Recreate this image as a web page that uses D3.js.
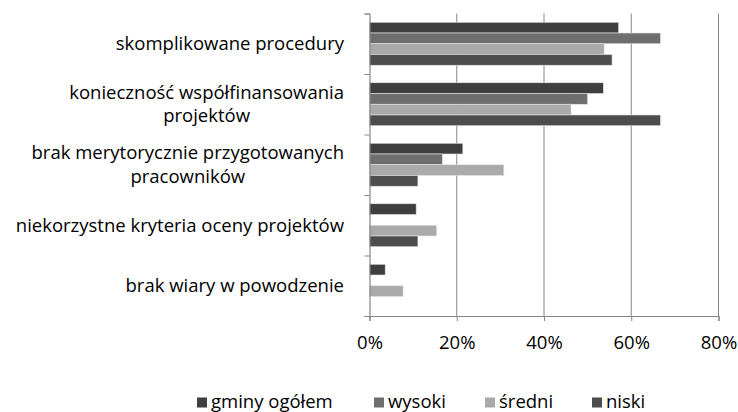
<!DOCTYPE html>
<html>
<head>
<meta charset="utf-8">
<script src="https://cdn.jsdelivr.net/npm/d3@7"></script>
<style>
  body { margin: 0; background: #fff; }
  text { font-family: "Open Sans", sans-serif; fill: #000; }
</style>
</head>
<body>
<script>
// categories (top to bottom)
var categories = [
  "skomplikowane procedury",
  "konieczność współfinansowania projektów",
  "brak merytorycznie przygotowanych pracowników",
  "niekorzystne kryteria oceny projektów",
  "brak wiary w powodzenie"
];
var seriesNames = ["gminy ogółem", "wysoki", "średni", "niski"];
var seriesColors = ["#3f3f3f", "#6e6e6e", "#aaaaaa", "#4d4d4d"];

// values in %, one array per series, same order as categories
var gminyOgolem = [57.1, 53.6, 21.4, 10.7, 3.6];
var wysoki      = [66.7, 50.0, 16.7, 0, 0];
var sredni      = [53.8, 46.2, 30.8, 15.4, 7.7];
var niski       = [55.6, 66.7, 11.1, 11.1, 0];

var tickValues = [0, 20, 40, 60, 80];

var seriesValues = [gminyOgolem, wysoki, sredni, niski];

var W = 738, H = 412, FS = "18.5px";
var svg = d3.select("body").append("svg")
  .attr("width", W).attr("height", H);

var x = d3.scaleLinear().domain([0, 80]).range([369.5, 718.5]);
var y = d3.scaleBand().domain(categories).range([13.5, 316])
  .paddingInner(0.29).paddingOuter(0.145);
var ySub = d3.scaleBand().domain(seriesNames).range([0, y.bandwidth()]);
var yEdge = d3.scaleLinear().domain([0, categories.length]).range([13.5, 316]);

// gridlines
svg.append("g")
  .selectAll("line")
  .data(tickValues.slice(1))
  .enter().append("line")
  .attr("x1", function(d){ return x(d); })
  .attr("x2", function(d){ return x(d); })
  .attr("y1", 13.5).attr("y2", 316)
  .attr("stroke", "#868686").attr("stroke-width", 1);

// bars
var rows = [];
categories.forEach(function(c, i){
  seriesNames.forEach(function(s, j){
    rows.push({cat: c, series: s, value: seriesValues[j][i], color: seriesColors[j]});
  });
});

svg.append("g")
  .selectAll("rect")
  .data(rows.filter(function(d){ return d.value > 0; }))
  .enter().append("rect")
  .attr("x", x(0))
  .attr("y", function(d){ return y(d.cat) + ySub(d.series); })
  .attr("width", function(d){ return x(d.value) - x(0); })
  .attr("height", ySub.bandwidth())
  .attr("fill", function(d){ return d.color; })
  .attr("stroke", "#e4e4e4")
  .attr("stroke-width", 0.6);

// x axis
var xAxis = svg.append("g")
  .attr("transform", "translate(0,316)")
  .call(d3.axisBottom(x).tickValues(tickValues).tickSize(5).tickPadding(15)
    .tickFormat(function(d){ return d + "%"; }));
xAxis.select(".domain").attr("stroke", "#868686").attr("stroke-width", 1.2);
xAxis.selectAll(".tick line").attr("stroke", "#868686");
xAxis.selectAll("text").style("font-size", FS).attr("fill", "#000");

// y axis (boundary ticks only)
var yAxis = svg.append("g")
  .attr("transform", "translate(369.5,0)")
  .call(d3.axisLeft(yEdge).ticks(categories.length).tickSize(5).tickFormat(""));
yAxis.select(".domain").attr("stroke", "#868686").attr("stroke-width", 1.2);
yAxis.selectAll(".tick line").attr("stroke", "#868686");

// category labels, wrapped and centered as a block against the axis
var labelRight = 344, maxW = 342, lineH = 23.5;
categories.forEach(function(c){
  var words = c.split(" "), lines = [], line = [];
  var probe = svg.append("text").style("font-size", FS);
  words.forEach(function(w){
    line.push(w);
    probe.text(line.join(" "));
    if (probe.node().getComputedTextLength() > maxW && line.length > 1) {
      line.pop();
      lines.push(line.join(" "));
      line = [w];
    }
  });
  lines.push(line.join(" "));
  var widths = lines.map(function(l){ probe.text(l); return probe.node().getComputedTextLength(); });
  probe.remove();
  var blockW = d3.max(widths);
  var cy = y(c) + y.bandwidth() / 2;
  var cx = labelRight - blockW / 2;
  var t = svg.append("text")
    .attr("text-anchor", "middle")
    .style("font-size", FS);
  lines.forEach(function(l, k){
    t.append("tspan")
      .attr("x", cx)
      .attr("y", cy + (k - (lines.length - 1) / 2) * lineH)
      .attr("dy", "0.35em")
      .text(l);
  });
});

// legend
var legendX = [197, 374, 485, 592];
var legend = svg.append("g").attr("transform", "translate(0,401.5)");
var items = legend.selectAll("g")
  .data(seriesNames)
  .enter().append("g")
  .attr("transform", function(d, i){ return "translate(" + legendX[i] + ",0)"; });
items.append("rect")
  .attr("x", 0).attr("y", -4).attr("width", 10).attr("height", 10)
  .attr("fill", function(d, i){ return seriesColors[i]; });
items.append("text")
  .attr("x", 14).attr("dy", "0.35em")
  .style("font-size", FS)
  .text(function(d){ return d; });
</script>
</body>
</html>
